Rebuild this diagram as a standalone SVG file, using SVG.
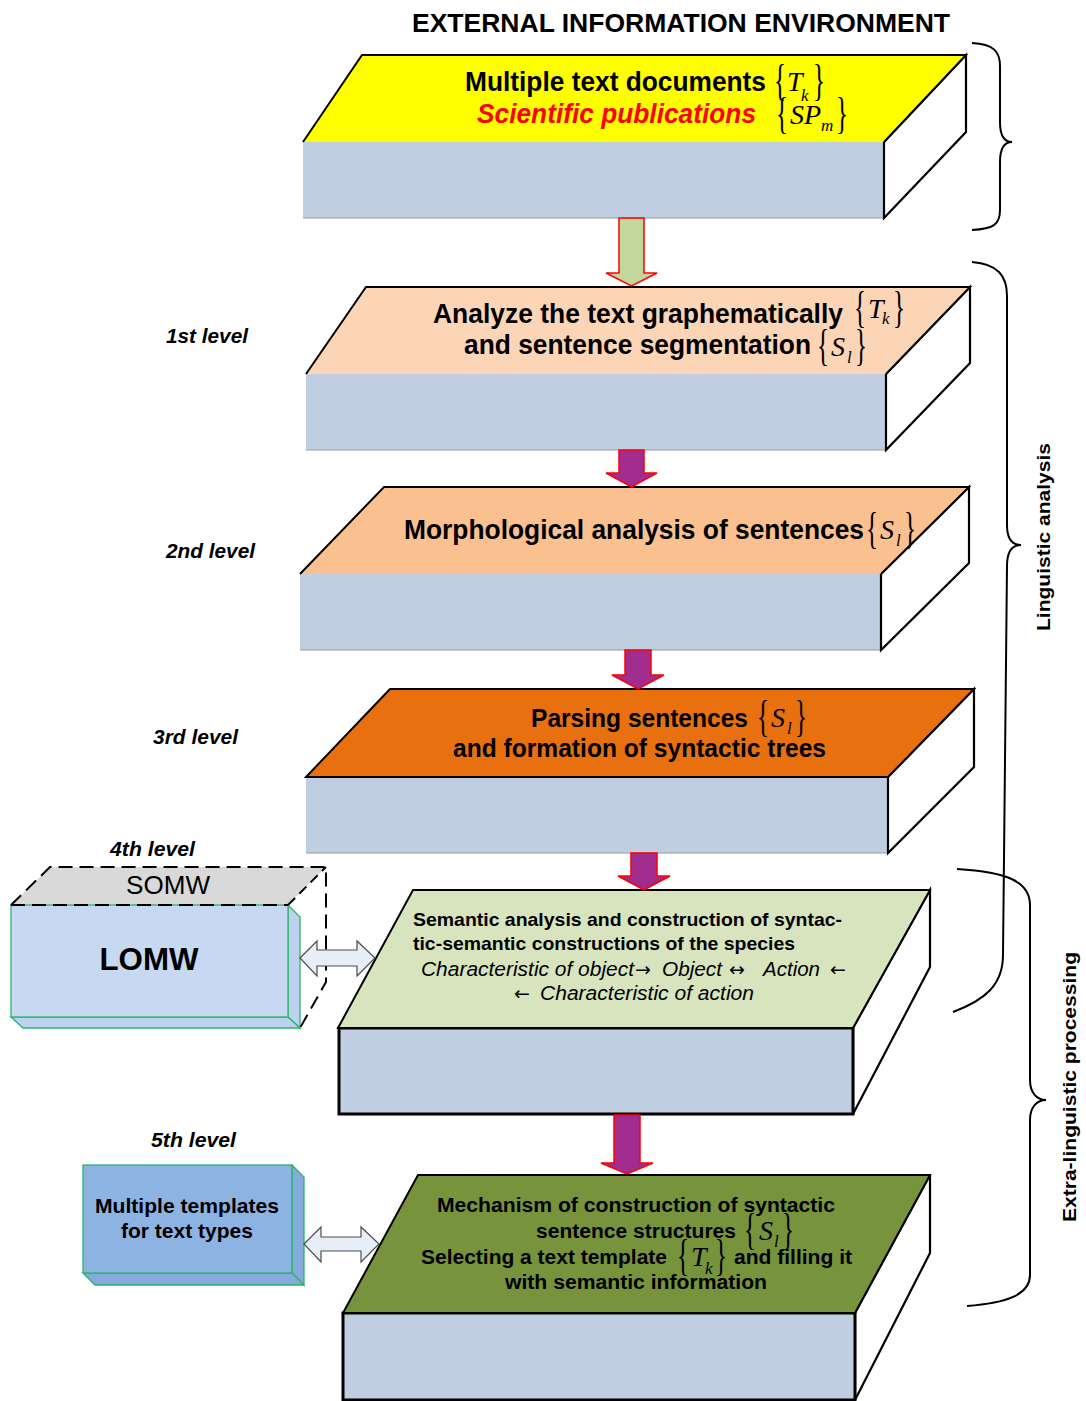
<svg xmlns="http://www.w3.org/2000/svg" width="1086" height="1401" viewBox="0 0 1086 1401">
  <style>
    .bold { font-family: "Liberation Sans", Arial, sans-serif; font-weight: bold; fill: #000; }
    .ital { font-family: "Liberation Sans", Arial, sans-serif; font-style: italic; fill: #000; }
    .lvl { font-family: "Liberation Sans", Arial, sans-serif; font-weight: bold; font-style: italic; font-size: 20px; fill: #000; }
    .math { font-family: "Liberation Serif", "Times New Roman", serif; fill: #000; }
    .arw { font-family: "DejaVu Sans", sans-serif; font-style: normal; font-size: 19px; }
    .br { font-size: 44px; font-style: normal; }
    .mv { font-size: 28px; font-style: italic; }
    .sub { font-size: 17px; font-style: italic; }
    .edge { stroke: #000; stroke-width: 2; stroke-linejoin: miter; }
    .front { fill: #C0CEE1; }
    .side { fill: #FFFFFF; stroke: #000; stroke-width: 2.2; }
    .down { stroke: #FF0000; stroke-width: 1.5; stroke-linejoin: miter; }
    .dbl { fill: #E7EEF8; stroke: #4D4D4D; stroke-width: 1.2; }
    .brace { fill: none; stroke: #000; stroke-width: 2; }
    .bevel { stroke: #2DB36A; stroke-width: 1.3; }
  </style>

  <!-- heading -->
  <text class="bold" x="681" y="32" font-size="25" text-anchor="middle" textLength="538" lengthAdjust="spacingAndGlyphs">EXTERNAL INFORMATION ENVIRONMENT</text>

  <!-- level captions -->
  <g id="level-labels">
    <text class="lvl" x="166" y="343" textLength="82" lengthAdjust="spacingAndGlyphs">1st level</text>
    <text class="lvl" x="166" y="558" textLength="89" lengthAdjust="spacingAndGlyphs">2nd level</text>
    <text class="lvl" x="153" y="744" textLength="85" lengthAdjust="spacingAndGlyphs">3rd level</text>
    <text class="lvl" x="110" y="856" textLength="85" lengthAdjust="spacingAndGlyphs">4th level</text>
    <text class="lvl" x="151" y="1147" textLength="85" lengthAdjust="spacingAndGlyphs">5th level</text>
  </g>

  <!-- block 1: source documents -->
  <g id="documents">
    <rect class="front" x="303" y="142" width="581" height="76"/>
    <line x1="303" y1="218" x2="884" y2="218" stroke="#999" stroke-width="1.2"/>
    <polygon class="side" points="884,142 966,55 966,132 884,218"/>
    <polygon points="362,55 966,55 884,142 303,142" fill="#FFFF00"/>
    <polyline class="edge" fill="none" points="303,142 362,55 966,55 884,142"/>
    <text class="bold" x="465" y="91" font-size="27" textLength="301" lengthAdjust="spacingAndGlyphs">Multiple text documents</text>
    <text class="bold" x="477" y="123" font-size="27" font-style="italic" style="fill:#FF0000" textLength="279" lengthAdjust="spacingAndGlyphs">Scientific publications</text>
    <text class="math"><tspan class="br" x="774" y="95" textLength="12" lengthAdjust="spacingAndGlyphs">{</tspan><tspan class="mv" x="787" y="91">T</tspan><tspan class="sub" x="801" y="101">k</tspan><tspan class="br" x="813" y="95" textLength="12" lengthAdjust="spacingAndGlyphs">}</tspan></text>
    <text class="math"><tspan class="br" x="776" y="128" textLength="12" lengthAdjust="spacingAndGlyphs">{</tspan><tspan class="mv" x="790" y="124">SP</tspan><tspan class="sub" x="821" y="131">m</tspan><tspan class="br" x="836" y="128" textLength="12" lengthAdjust="spacingAndGlyphs">}</tspan></text>
  </g>

  <!-- level 1 -->
  <g id="graphematic">
    <rect class="front" x="306" y="374" width="580" height="76"/>
    <line x1="306" y1="450" x2="886" y2="450" stroke="#999" stroke-width="1.2"/>
    <polygon class="side" points="886,374 970,287 970,363 886,450"/>
    <polygon points="366,287 970,287 886,374 306,374" fill="#FBD5B5"/>
    <polyline class="edge" fill="none" points="306,374 366,287 970,287 886,374"/>
    <text class="bold" x="433" y="323" font-size="27" textLength="410" lengthAdjust="spacingAndGlyphs">Analyze the text graphematically</text>
    <text class="bold" x="464" y="354" font-size="27" textLength="347" lengthAdjust="spacingAndGlyphs">and sentence segmentation</text>
    <text class="math"><tspan class="br" x="854" y="322" textLength="12" lengthAdjust="spacingAndGlyphs">{</tspan><tspan class="mv" x="868" y="318">T</tspan><tspan class="sub" x="882" y="324">k</tspan><tspan class="br" x="893" y="322" textLength="12" lengthAdjust="spacingAndGlyphs">}</tspan></text>
    <text class="math"><tspan class="br" x="817" y="360" textLength="12" lengthAdjust="spacingAndGlyphs">{</tspan><tspan class="mv" x="831" y="356">S</tspan><tspan class="sub" x="847" y="363">l</tspan><tspan class="br" x="855" y="360" textLength="12" lengthAdjust="spacingAndGlyphs">}</tspan></text>
  </g>

  <!-- level 2 -->
  <g id="morphology">
    <rect class="front" x="300" y="574" width="581" height="76"/>
    <line x1="300" y1="650" x2="881" y2="650" stroke="#999" stroke-width="1.2"/>
    <polygon class="side" points="881,574 969,487 969,563 881,650"/>
    <polygon points="384,487 969,487 881,574 300,574" fill="#FAC090"/>
    <polyline class="edge" fill="none" points="300,574 384,487 969,487 881,574"/>
    <text class="bold" x="404" y="539" font-size="27" textLength="460" lengthAdjust="spacingAndGlyphs">Morphological analysis of sentences</text>
    <text class="math"><tspan class="br" x="866" y="543" textLength="12" lengthAdjust="spacingAndGlyphs">{</tspan><tspan class="mv" x="880" y="539">S</tspan><tspan class="sub" x="896" y="546">l</tspan><tspan class="br" x="904" y="543" textLength="12" lengthAdjust="spacingAndGlyphs">}</tspan></text>
  </g>

  <!-- level 3 -->
  <g id="parsing">
    <rect class="front" x="306" y="777" width="582" height="76"/>
    <line x1="306" y1="853" x2="888" y2="853" stroke="#999" stroke-width="1.2"/>
    <polygon class="side" points="888,777 974,689 974,767 888,853"/>
    <polygon class="edge" points="390,689 974,689 888,777 306,777" fill="#E8700E"/>
    <text class="bold" x="531" y="727" font-size="25" textLength="217" lengthAdjust="spacingAndGlyphs">Parsing sentences</text>
    <text class="bold" x="453" y="757" font-size="25" textLength="373" lengthAdjust="spacingAndGlyphs">and formation of syntactic trees</text>
    <text class="math"><tspan class="br" x="757" y="731" textLength="12" lengthAdjust="spacingAndGlyphs">{</tspan><tspan class="mv" x="771" y="727">S</tspan><tspan class="sub" x="787" y="734">l</tspan><tspan class="br" x="795" y="731" textLength="12" lengthAdjust="spacingAndGlyphs">}</tspan></text>
  </g>

  <!-- level 4: semantic analysis -->
  <g id="semantic">
    <polygon class="side" points="853,1028 930,890 930,967 853,1114"/>
    <rect x="339" y="1028" width="514" height="86" fill="#C0CEE1" stroke="#000" stroke-width="3"/>
    <polygon class="edge" points="413,890 930,890 853,1028 338,1028" fill="#D7E4BD"/>
    <text class="bold" x="413" y="926" font-size="19" textLength="429" lengthAdjust="spacingAndGlyphs">Semantic analysis and construction of syntac-</text>
    <text class="bold" x="413" y="950" font-size="19" textLength="382" lengthAdjust="spacingAndGlyphs">tic-semantic constructions of the species</text>
    <text class="ital" y="976" font-size="20"><tspan x="421" textLength="213" lengthAdjust="spacingAndGlyphs">Characteristic of object</tspan><tspan class="arw" x="635">→</tspan><tspan x="662" textLength="60" lengthAdjust="spacingAndGlyphs">Object</tspan><tspan class="arw" x="729">↔</tspan><tspan x="763" textLength="57" lengthAdjust="spacingAndGlyphs">Action</tspan><tspan class="arw" x="830">←</tspan></text>
    <text class="ital" y="1000" font-size="20"><tspan class="arw" x="514">←</tspan><tspan x="540" textLength="214" lengthAdjust="spacingAndGlyphs">Characteristic of action</tspan></text>
  </g>

  <!-- level 5: synthesis -->
  <g id="synthesis">
    <polygon class="side" points="855,1313 930,1175 930,1253 855,1400"/>
    <rect x="343" y="1313" width="512" height="87" fill="#C0CEE1" stroke="#000" stroke-width="3"/>
    <polygon class="edge" points="418,1175 930,1175 855,1313 343,1313" fill="#77933C" stroke-width="2.5"/>
    <text class="bold" x="437" y="1212" font-size="20" textLength="398" lengthAdjust="spacingAndGlyphs">Mechanism of construction of syntactic</text>
    <text class="bold" x="536" y="1238" font-size="20" textLength="200" lengthAdjust="spacingAndGlyphs">sentence structures</text>
    <text class="bold" x="421" y="1264" font-size="20" textLength="246" lengthAdjust="spacingAndGlyphs">Selecting a text template</text>
    <text class="bold" x="734" y="1264" font-size="20" textLength="118" lengthAdjust="spacingAndGlyphs">and filling it</text>
    <text class="bold" x="505" y="1289" font-size="20" textLength="262" lengthAdjust="spacingAndGlyphs">with semantic information</text>
    <text class="math"><tspan class="br" x="744" y="1244" textLength="12" lengthAdjust="spacingAndGlyphs">{</tspan><tspan class="mv" x="759" y="1240">S</tspan><tspan class="sub" x="774" y="1247">l</tspan><tspan class="br" x="782" y="1244" textLength="12" lengthAdjust="spacingAndGlyphs">}</tspan></text>
    <text class="math"><tspan class="br" x="677" y="1270" textLength="12" lengthAdjust="spacingAndGlyphs">{</tspan><tspan class="mv" x="691" y="1266">T</tspan><tspan class="sub" x="705" y="1274">k</tspan><tspan class="br" x="715" y="1270" textLength="12" lengthAdjust="spacingAndGlyphs">}</tspan></text>
  </g>

  <!-- knowledge store: SOMW over LOMW -->
  <g id="somw-lomw">
    <polygon points="50,867 326,867 288,905 11,905" fill="#D9D9D9"/>
    <polygon class="bevel" points="288,905 300,917 300,1028 288,1017" fill="#BCD2EE"/>
    <polygon class="bevel" points="11,1017 23,1028 300,1028 288,1017" fill="#BCD2EE"/>
    <rect class="bevel" x="11" y="905" width="277" height="112" fill="#C6D9F1"/>
    <polyline fill="none" stroke="#000" stroke-width="2" stroke-dasharray="14,7" points="11,905 50,867 326,867 326,982 300,1028"/>
    <line x1="11" y1="905" x2="288" y2="905" stroke="#000" stroke-width="2" stroke-dasharray="14,7"/>
    <line x1="288" y1="905" x2="326" y2="867" stroke="#000" stroke-width="2" stroke-dasharray="10,6"/>
    <text x="168" y="894" font-family="Liberation Sans, Arial, sans-serif" font-size="25" text-anchor="middle" textLength="84" lengthAdjust="spacingAndGlyphs">SOMW</text>
    <text class="bold" x="149" y="970" font-size="32" text-anchor="middle" textLength="99" lengthAdjust="spacingAndGlyphs">LOMW</text>
  </g>

  <!-- template store -->
  <g id="templates">
    <polygon class="bevel" points="292,1165 304,1177 304,1285 292,1273" fill="#84ABDC"/>
    <polygon class="bevel" points="83,1273 95,1285 304,1285 292,1273" fill="#84ABDC"/>
    <rect class="bevel" x="83" y="1165" width="209" height="108" fill="#8DB3E2"/>
    <text class="bold" x="187" y="1213" font-size="21" text-anchor="middle" textLength="184" lengthAdjust="spacingAndGlyphs">Multiple templates</text>
    <text class="bold" x="187" y="1238" font-size="21" text-anchor="middle" textLength="132" lengthAdjust="spacingAndGlyphs">for text types</text>
  </g>

  <!-- connectors -->
  <g id="connectors">
    <path class="down" fill="#C3D69B" d="M619,218 L644,218 L644,273 L657,273 L631.5,286 L606,273 L619,273 Z"/>
    <path class="down" fill="#A02D8E" d="M619,450 L644,450 L644,473 L657,473 L631.5,487 L606,473 L619,473 Z"/>
    <path class="down" fill="#A02D8E" d="M625,650 L651,650 L651,675 L664,675 L638,689 L612,675 L625,675 Z"/>
    <path class="down" fill="#A02D8E" d="M631,853 L657,853 L657,876 L670,876 L644,890 L618,876 L631,876 Z"/>
    <path class="down" fill="#A02D8E" stroke-width="2.5" d="M614,1115 L640,1115 L640,1163 L653,1163 L627,1174 L601,1163 L614,1163 Z"/>
    <path class="dbl" d="M300,958 L317,941 L317,950 L357,950 L357,941 L375,958 L357,976 L357,966 L317,966 L317,976 Z"/>
    <path class="dbl" d="M304,1244 L321,1227 L321,1237 L361,1237 L361,1227 L379,1244 L361,1262 L361,1251 L321,1251 L321,1262 Z"/>
  </g>

  <!-- grouping braces -->
  <g id="braces">
    <path class="brace" d="M972,43 C994,44 1000,52 1000,66 L1000,122 C1000,135 1004,142 1012,142 C1004,142 1000,149 1000,162 L1000,210 C1000,224 994,229 972,230"/>
    <path class="brace" d="M972,262 C998,264 1007,276 1007,296 L1007,525 C1007,538 1012,545 1021,545 C1012,545 1007,552 1007,566 L1003,955 C1003,985 985,1000 953,1012"/>
    <path class="brace" d="M957,869 C1008,872 1030,882 1030,905 L1030,1080 C1030,1093 1037,1100 1046,1100 C1037,1100 1030,1107 1030,1120 L1030,1275 C1030,1295 1006,1303 967,1306"/>
    <text class="bold" transform="translate(1050,537) rotate(-90)" font-size="18" text-anchor="middle" textLength="188" lengthAdjust="spacingAndGlyphs">Linguistic analysis</text>
    <text class="bold" transform="translate(1076,1087) rotate(-90)" font-size="18" text-anchor="middle" textLength="270" lengthAdjust="spacingAndGlyphs">Extra-linguistic processing</text>
  </g>
</svg>
